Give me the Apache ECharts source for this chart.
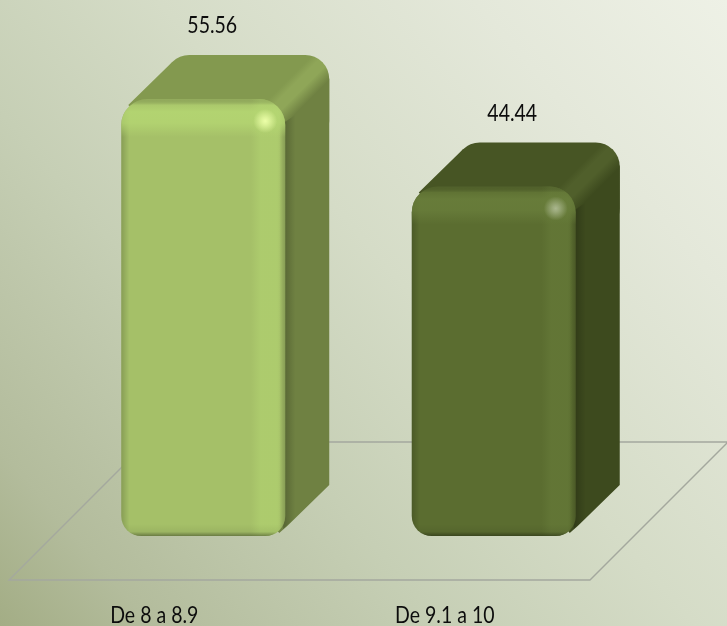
<!DOCTYPE html>
<html>
<head>
<meta charset="utf-8">
<style>html,body{margin:0;padding:0;background:#dfe4d4}#c{width:727px;height:626px}</style>
<script src="https://cdn.jsdelivr.net/npm/echarts@6/dist/echarts.min.js"></script>
</head>
<body>
<div id="c"></div>
<script>
const categories = ['De 8 a 8.9', 'De 9.1 a 10'];
const values = [55.56, 44.44];

const palette = [
  {front:'#a5c068', band:'#b6d873', top:'#83994f', side:'#6f8142', wedge:'#8fa658', spec:'#ecffa8'},
  {front:'#5b6d30', band:'#6a7f3c', top:'#475524', side:'#3d4a1e', wedge:'#505f2b', spec:'#aab78e'}
];
const labelDx = [58, 67.5];
const FONT = 'Lato, "Open Sans", sans-serif';
const TEXT_SCALE = 0.83;
const DEPTH = 44, FLOOR = 138;

function lin(x, y, x2, y2, stops) {
  return {type:'linear', global:true, x, y, x2, y2,
    colorStops: stops.map(s => ({offset:s[0], color:s[1]}))};
}

function narrowText(text, x, y) {
  return {type:'text', x, y, scaleX:TEXT_SCALE,
    style:{text, x:0, y:0, fill:'#0c0c0c', font:'23.5px '+FONT, align:'center', verticalAlign:'middle'}};
}

function renderBar(params, api) {
  const i = api.value(0), v = api.value(1);
  const pal = palette[i];
  const base = api.coord([i, 0]), tip = api.coord([i, v]);
  const w = api.size([1, 0])[0] * 0.5645;
  const x = base[0] + 49 - w / 2, y = tip[1] - DEPTH, b = base[1] - DEPTH, h = b - y;
  const r = x + w, d = DEPTH;
  const rect = {x, y, width:w, height:h, r:[26, 26, 20, 20]};
  const body = lin(r-14, y-14, r+12.5, y+12.5, [[0,pal.top],[0.22,pal.top],[0.42,pal.wedge],[0.66,pal.wedge],[1,pal.side]]);
  return {type:'group', children:[
    {type:'rect', shape:{x:x+d, y:y-d, width:w, height:90, r:24}, style:{fill:body}},
    {type:'polygon', shape:{points:[[x+7,y+6],[x+d+7,y-d+7],[r+d-7,y-d+7],[r+d,y-20],[r+d,b-51],[r+2,b-10],[r-6,b-3],[r-20,b-20],[x+20,y+20]]},
      style:{fill:body}},
    {type:'polygon', shape:{points:[[r-2,y+24],[r+10,y+16],[r+10,b-18],[r-2,b-7]]},
      style:{fill:lin(r-2, 0, r+10, 0, [[0,'rgba(0,0,0,0.22)'],[1,'rgba(0,0,0,0)']])}},
    {type:'rect', shape:rect, style:{fill:pal.front}},
    {type:'rect', shape:rect, style:{fill:lin(x,0,r,0,[
      [0,'rgba(0,0,0,0.18)'],[0.05,'rgba(0,0,0,0)'],[1,'rgba(0,0,0,0)']])}},
    {type:'rect', shape:rect, style:{fill:lin(x,0,r,0,[
      [0,pal.band+'00'],[0.79,pal.band+'00'],[0.85,pal.band+'77'],[0.95,pal.band+'77'],[0.985,pal.band+'00'],[1,pal.band+'00']])}},
    {type:'rect', shape:rect, style:{fill:lin(r-6,0,r,0,[[0,'rgba(0,0,0,0)'],[1,'rgba(0,0,0,0.18)']])}},
    {type:'rect', shape:rect, style:{fill:lin(0,y,0,y+40,[
      [0,'rgba(0,0,0,0.10)'],[0.15,pal.band+'55'],[0.32,pal.band+'cc'],[0.6,pal.band+'bb'],[0.95,pal.band+'00'],[1,pal.band+'00']])}},
    {type:'rect', shape:rect, style:{fill:lin(0,b-12,0,b,[
      [0,'rgba(0,0,0,0)'],[0.65,'rgba(0,0,0,0.06)'],[1,'rgba(0,0,0,0.36)']])}},
    {type:'circle', shape:{cx:x+w-20, cy:y+22, r:12},
      style:{fill:{type:'radial', x:0.5, y:0.5, r:0.5, colorStops:[
        {offset:0,color:pal.spec},{offset:0.3,color:pal.spec+'bb'},{offset:1,color:pal.spec+'00'}]}}},
    narrowText(v.toFixed(2), base[0]+labelDx[i], y-73.5),
    narrowText(categories[i], base[0], 615)
  ]};
}

function renderFloor(params, api) {
  const c = params.coordSys;
  const x0 = c.x, x1 = c.x + c.width, y0 = c.y + c.height, yb = y0 - FLOOR;
  return {type:'polygon', shape:{points:[[x0,y0],[x1,y0],[x1+FLOOR,yb],[x0+FLOOR,yb]]},
    style:{fill:'none', stroke:'#a4a89e', lineWidth:1.4}};
}

const chart = echarts.init(document.getElementById('c'), null, {renderer:'canvas'});
chart.setOption({
  animation:false,
  backgroundColor:{type:'linear', x:0, y:1, x2:1, y2:0, colorStops:[
    {offset:0,color:'#a3ad85'},{offset:0.12,color:'#b3bc9c'},{offset:0.35,color:'#c6cfb5'},{offset:0.55,color:'#d5dcc7'},{offset:0.8,color:'#e4e8da'},{offset:1,color:'#eef1e6'}]},
  grid:{left:9, width:581, top:108.1, height:471.9},
  xAxis:{type:'category', data:categories, axisLine:{show:false}, axisTick:{show:false}, splitLine:{show:false}, axisLabel:{show:false}},
  yAxis:{type:'value', min:0, max:60, show:false},
  series:[
    {type:'custom', silent:true, clip:false, z:1, renderItem:renderFloor, data:[0], encode:{x:0,y:0}},
    {type:'custom', silent:true, clip:false, z:2, renderItem:renderBar,
      data:values.map((v,i)=>[i,v]), encode:{x:0,y:1}}
  ]
});
</script>
</body>
</html>
